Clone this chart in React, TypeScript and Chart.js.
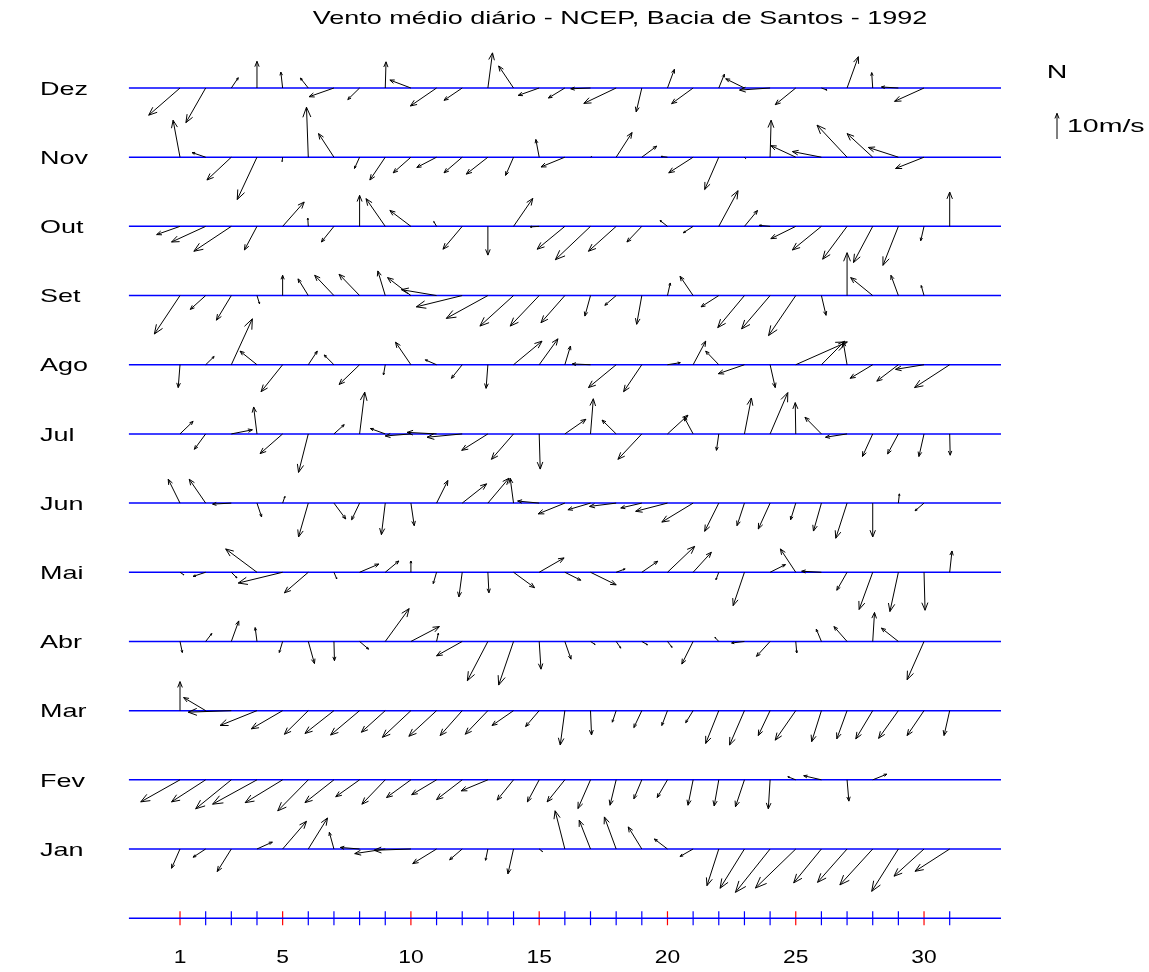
import React, { useEffect, useRef } from 'react';
import { Chart, registerables } from 'chart.js';

Chart.register(...registerables);

const titleText = 'Vento médio diário - NCEP, Bacia de Santos - 1992';
const monthLabels = ['Jan', 'Fev', 'Mar', 'Abr', 'Mai', 'Jun', 'Jul', 'Ago', 'Set', 'Out', 'Nov', 'Dez'];
const dayTickLabels = [1, 5, 10, 15, 20, 25, 30];
const axisDays = [1, 2, 3, 4, 5, 6, 7, 8, 9, 10, 11, 12, 13, 14, 15, 16, 17, 18, 19, 20, 21, 22, 23, 24, 25, 26, 27, 28, 29, 30, 31];
const refSpeed = 10; // m/s, scale arrow and one day spacing
const refLabel = '10m/s';
const northLabel = 'N';

type W = [number, number] | null;

// daily mean wind [u (east), v (north)] in m/s
const windJan: W[] = [[-3.3, -7.5], [-4.9, -3.2], [-5.5, -8.8], [6.0, 2.7], [9.3, 10.8], [7.5, 12.1], [-1.8, 6.5], [-7.5, 0.6], [-11.9, -1.8], [-14.4, -0.5], [-9.3, -5.7], [-4.9, -4.2], [-0.9, -4.4], [-2.2, -9.7], [1.3, -1.0], [-3.8, 14.9], [-4.4, 11.2], [-4.6, 12.5], [-5.3, 8.6], [-5.1, 3.9], [-5.1, -2.9], [-4.6, -14.3], [-9.5, -15.3], [-13.5, -16.9], [-15.7, -15.2], [-10.8, -13.2], [-11.5, -13.0], [-12.8, -14.0], [-10.4, -16.5], [-11.7, -10.6], [-13.5, -8.7]];
const windFev: W[] = [[-15.3, -8.6], [-13.3, -8.6], [-13.9, -11.3], [-17.3, -9.5], [-14.6, -8.9], [-11.9, -12.1], [-11.3, -8.9], [-9.3, -6.6], [-9.1, -9.5], [-9.5, -6.9], [-9.7, -5.8], [-10.0, -7.7], [-10.4, -4.3], [-6.4, -7.9], [-4.6, -8.6], [-6.9, -8.6], [-4.9, -11.2], [-2.4, -9.9], [-3.1, -7.4], [-4.0, -6.9], [-2.0, -9.9], [-1.8, -10.2], [-3.5, -10.5], [-0.7, -11.3], [-3.1, 1.2], [-6.9, 1.6], [0.7, -8.3], [5.5, 2.2], null];
const windMar: W[] = [[0, 11.3], [-8.6, 5.1], [-16.8, -0.6], [-14.4, -5.8], [-12.2, -7.1], [-9.3, -9.2], [-11.3, -8.9], [-11.3, -9.5], [-9.3, -8.4], [-11.1, -10.4], [-10.8, -10.0], [-8.6, -9.7], [-8.8, -9.2], [-8.4, -5.8], [-5.3, -6.2], [-1.8, -13.4], [0.4, -9.5], [-1.5, -4.5], [-3.1, -6.6], [-2.2, -5.8], [-2.9, -4.7], [-5.1, -12.8], [-5.8, -13.4], [-4.6, -9.7], [-8.0, -11.5], [-3.8, -12.1], [-4.0, -11.0], [-6.6, -11.0], [-7.7, -10.8], [-6.6, -9.7], [-2.2, -9.7]];
const windAbr: W[] = [[0.9, -4.3], [2.4, 3.1], [2.9, 8.0], [-0.7, 5.4], [-1.3, -4.3], [2.4, -8.6], [0.2, -7.5], [3.5, -3.0], [9.3, 12.8], [11.1, 5.8], [0.7, 3.2], [-10.0, -5.6], [-8.0, -15.3], [-5.8, -17.0], [0.7, -10.8], [2.4, -6.9], [1.8, -1.2], [1.8, -2.6], [2.2, -1.3], [1.8, -2.3], [-4.4, -8.8], [-1.5, 1.6], [-5.0, -0.6], [-5.3, -5.8], [0.4, -4.5], [-2.0, 4.8], [-5.1, 5.8], [0.7, 11.3], [-6.6, 5.2], [-6.6, -14.9]];
const windMai: W[] = [[1.5, -1.0], [-4.9, -1.6], [2.2, -2.2], [-12.2, 9.1], [-17.3, -4.2], [-9.3, -8.0], [1.1, -2.6], [7.5, 3.2], [5.3, 4.4], [0, 4.4], [-1.3, -4.4], [-1.3, -9.6], [0.4, -8.0], [8.2, -6.0], [9.7, 5.6], [6.2, -3.1], [10.0, -4.9], [3.5, 1.3], [6.2, 4.3], [10.6, 10.1], [7.1, 7.8], [-1.1, -2.9], [-4.4, -13.0], [6.0, 3.0], [-6.0, 9.1], [-7.7, 0.4], [-4.0, -7.0], [-5.3, -14.5], [-3.3, -15.3], [0.4, -14.8], [0.9, 8.3]];
const windJun: W[] = [[-4.6, 9.3], [-6.4, 9.3], [-7.3, -0.4], [1.8, -5.4], [0.9, 2.6], [-3.8, -13.2], [4.6, -6.2], [-3.1, -6.5], [-1.5, -12.3], [1.3, -8.8], [4.4, 8.8], [9.5, 7.5], [8.2, 9.7], [-1.3, 9.7], [-8.4, 0.8], [-10.4, -4.2], [-8.8, -2.6], [-10.4, -1.3], [-8.2, -1.9], [-12.4, -3.2], [-12.2, -7.4], [-5.5, -11.0], [-2.9, -8.8], [-4.6, -10.1], [-2.0, -6.5], [-3.1, -10.9], [-4.4, -13.7], [0, -13.2], [0.4, 3.6], [-3.5, -3.0]];
const windJul: W[] = [[5.1, 4.9], [-4.4, -6.0], [8.2, 1.6], [-1.3, 10.5], [-8.8, -7.7], [-3.8, -15.0], [4.0, 3.6], [2.0, 16.3], [-5.8, 2.1], [-10.0, -0.8], [-11.5, 0.6], [-13.7, -1.3], [-10.2, -6.4], [-8.6, -9.9], [0.4, -13.7], [8.2, 5.7], [1.1, 13.7], [-5.5, 5.4], [-9.3, -9.9], [8.0, 7.3], [-3.5, 6.5], [-0.9, -6.4], [2.7, 14.0], [6.9, 16.1], [-0.2, 12.2], [-6.4, 6.5], [-8.4, -1.3], [-4.0, -8.8], [-4.2, -7.8], [-2.0, -8.8], [0.2, -8.3]];
const windAgo: W[] = [[-0.7, -8.9], [3.3, 3.2], [8.2, 17.9], [-6.6, 5.3], [-8.4, -10.5], [3.5, 5.3], [-3.8, 3.8], [-8.0, -7.7], [-0.7, -4.0], [-6.0, 8.8], [-4.4, 1.9], [-4.2, -5.3], [-0.7, -9.2], [11.1, 9.2], [7.3, 10.1], [2.2, 7.3], [-7.1, 0.3], [-10.8, -8.9], [-7.1, -10.5], [5.0, 0.8], [4.9, 9.2], [-5.1, 5.3], [-10.2, -3.5], [2.0, -8.9], [20.1, 8.9], [9.1, 9.2], [-1.5, 8.9], [-8.8, -5.3], [-8.4, -6.4], [-11.1, -1.8], [-13.7, -8.9]];
const windSet: W[] = [[-10.0, -15.0], [-6.0, -5.4], [-5.8, -9.6], [1.0, -3.2], [0, 7.9], [-4.0, 6.5], [-7.5, 7.9], [-8.0, 8.3], [-2.9, 9.6], [-9.1, 7.0], [-13.7, 2.3], [-17.9, -4.4], [-16.2, -8.9], [-13.1, -11.9], [-11.3, -11.9], [-9.3, -10.6], [-2.2, -8.0], [-4.4, -3.8], [-2.0, -11.2], [1.1, 4.9], [-5.1, 7.5], [-6.9, -4.4], [-10.4, -12.5], [-11.1, -13.0], [-10.6, -15.6], [1.8, -7.7], [0, 16.7], [-8.6, 7.0], [-2.9, 7.9], [-1.1, 3.9]];
const windOut: W[] = [[-9.1, -3.2], [-13.3, -6.1], [-14.6, -9.7], [-4.9, -9.2], [8.4, 9.5], [-0.2, 3.2], [-4.9, -6.1], [0, 12.1], [-7.5, 10.8], [-8.2, 6.2], [-1.1, 1.9], [-7.5, -8.9], [0, -11.2], [7.5, 10.9], [-3.5, -0.2], [-10.8, -8.9], [-13.7, -13.0], [-10.8, -9.7], [-5.8, -6.1], [-2.9, 2.3], [-3.8, -2.5], [7.5, 13.9], [5.1, 6.2], [-4.2, 0.4], [-9.7, -4.8], [-11.3, -9.2], [-9.5, -12.8], [-7.5, -14.1], [-6.0, -15.2], [-1.3, -5.6], [0, 13.4]];
const windNov: W[] = [[-2.7, 14.4], [-5.3, 1.8], [-9.5, -8.9], [-7.7, -16.5], [-0.2, -1.7], [-0.7, 19.5], [-6.0, 9.2], [-2.0, -4.4], [-6.0, -8.9], [-6.9, -6.1], [-7.7, -4.0], [-7.1, -6.1], [-8.4, -6.6], [-3.1, -7.1], [-1.3, 6.9], [-9.3, -3.8], [0.5, 0.3], [6.2, 9.6], [5.8, 4.3], [-2.5, 0.3], [-9.5, -6.1], [-5.5, -12.6], [0.5, -0.6], [0.4, 14.4], [-9.7, 4.5], [-11.3, 2.2], [-11.7, 12.5], [-10.0, 9.2], [-11.7, 3.8], [-11.1, -4.4]];
const windDez: W[] = [[-12.2, -10.6], [-7.7, -13.5], [2.7, 4.0], [0, 10.4], [-0.7, 6.2], [-3.1, 3.9], [-9.7, -3.4], [-4.6, -4.5], [0.3, 10.2], [-8.2, 3.1], [-10.2, -7.0], [-7.1, -4.8], [1.8, 13.7], [-5.8, 8.6], [-8.2, -2.9], [-6.4, -3.9], [-7.7, -0.3], [-12.6, -6.0], [-2.2, -9.3], [2.7, 7.3], [-8.4, -6.1], [2.2, 5.4], [-7.3, 3.6], [-11.9, -0.8], [-8.0, -6.5], [2.2, -0.8], [4.4, 12.2], [-0.4, 6.0], [-6.6, 0.4], [-11.5, -5.2], null];

const windByMonth: W[][] = [windJan, windFev, windMar, windAbr, windMai, windJun, windJul, windAgo, windSet, windOut, windNov, windDez];

const FONT = "'Liberation Sans', Arial, sans-serif";
const TEXT_SIZE = 19;
const TEXT_STRETCH = 1.42;
const LEGEND_STRETCH = 1.5;
const TICK_STRETCH = 1.2;

function drawArrow(ctx: CanvasRenderingContext2D, x0: number, y0: number, x1: number, y1: number) {
  const dx = x1 - x0;
  const dy = y1 - y0;
  if (Math.hypot(dx, dy) < 0.5) return;
  const bx = x1 - 0.2 * dx;
  const by = y1 - 0.2 * dy;
  const nx = -dy * 0.08;
  const ny = dx * 0.08;
  ctx.beginPath();
  ctx.moveTo(x0, y0);
  ctx.lineTo(x1, y1);
  ctx.moveTo(bx + nx, by + ny);
  ctx.lineTo(x1, y1);
  ctx.lineTo(bx - nx, by - ny);
  ctx.stroke();
}

function stretchedText(ctx: CanvasRenderingContext2D, text: string, x: number, y: number, align: CanvasTextAlign, sx: number) {
  ctx.save();
  ctx.translate(x, y);
  ctx.scale(sx, 1);
  ctx.textAlign = align;
  ctx.textBaseline = 'middle';
  ctx.fillText(text, 0, 0);
  ctx.restore();
}

const windPlugin = {
  id: 'windArrows',
  afterDatasetsDraw(chart: any) {
    const { ctx, scales, chartArea } = chart;
    const xs = scales.x;
    const ys = scales.y;
    const pxPerDay = xs.getPixelForValue(1) - xs.getPixelForValue(0);
    const k = pxPerDay / refSpeed;
    ctx.save();
    ctx.strokeStyle = '#000000';
    ctx.lineWidth = 1;
    windByMonth.forEach((arr, mi) => {
      const y0 = ys.getPixelForValue(mi + 1);
      arr.forEach((w, di) => {
        if (!w) return;
        const x0 = xs.getPixelForValue(di + 1);
        drawArrow(ctx, x0, y0, x0 + w[0] * k, y0 - w[1] * k);
      });
    });
    ctx.fillStyle = '#000000';
    ctx.font = `${TEXT_SIZE}px ${FONT}`;
    // month labels (y axis)
    monthLabels.forEach((m, i) => {
      stretchedText(ctx, m, 40, ys.getPixelForValue(i + 1) + 1.5, 'left', TEXT_STRETCH);
    });
    // day labels (x axis)
    dayTickLabels.forEach((d) => {
      stretchedText(ctx, String(d), xs.getPixelForValue(d), 958, 'center', TICK_STRETCH);
    });
    // title
    stretchedText(ctx, titleText, 620, 19, 'center', TEXT_STRETCH);
    // scale legend
    const lx = chartArea.right + 56;
    const ly = 139;
    drawArrow(ctx, lx, ly, lx, ly - refSpeed * k);
    stretchedText(ctx, northLabel, lx, 73, 'center', LEGEND_STRETCH);
    stretchedText(ctx, refLabel, lx + 10, 127, 'left', LEGEND_STRETCH);
    ctx.restore();
  },
};

export default function App() {
  const ref = useRef<HTMLCanvasElement | null>(null);
  useEffect(() => {
    if (!ref.current) return;
    const rows = [0, 1, 2, 3, 4, 5, 6, 7, 8, 9, 10, 11, 12];
    const baseLines = rows.map((r) => ({
      type: 'line' as const,
      data: [{ x: -1, y: r }, { x: 33, y: r }],
      borderColor: '#0000ff',
      borderWidth: 1.5,
      pointRadius: 0,
      fill: false,
    }));
    const tickMarks = {
      type: 'scatter' as const,
      data: axisDays.map((d) => ({ x: d, y: 0 })),
      pointStyle: 'line' as const,
      rotation: 90,
      pointRadius: 7,
      borderWidth: 1.2,
      borderColor: axisDays.map((d) => (dayTickLabels.includes(d) ? '#ff0000' : '#0000ff')),
      backgroundColor: 'transparent',
    };
    const chart = new Chart(ref.current, {
      type: 'scatter',
      data: { datasets: [...baseLines, tickMarks] as any },
      options: {
        responsive: false,
        animation: false,
        events: [],
        layout: { padding: { left: 40, right: 148, top: 40, bottom: 0 } },
        plugins: { legend: { display: false }, tooltip: { enabled: false }, title: { display: false } },
        scales: {
          x: {
            type: 'linear',
            min: -1,
            max: 33,
            grid: { display: false },
            border: { display: false },
            ticks: { display: false },
            afterFit: (s: any) => {
              s.height = 27;
            },
          },
          y: {
            type: 'linear',
            min: -0.3877,
            max: 12.694,
            grid: { display: false },
            border: { display: false },
            ticks: { display: false },
            afterFit: (s: any) => {
              s.width = 88.7;
            },
          },
        },
      },
      plugins: [windPlugin],
    });
    return () => chart.destroy();
  }, []);
  return (
    <div style={{ position: 'absolute', left: 0, top: 0, width: 1149, height: 972, background: '#ffffff' }}>
      <canvas ref={ref} width={1149} height={972} style={{ display: 'block' }} />
    </div>
  );
}
